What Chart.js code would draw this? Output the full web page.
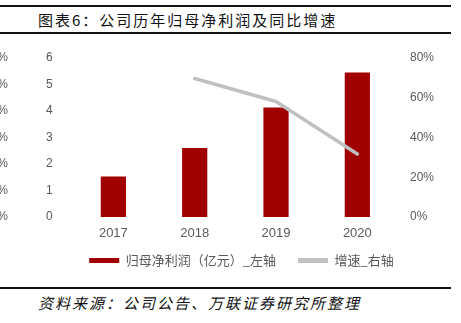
<!DOCTYPE html>
<html>
<head>
<meta charset="utf-8">
<script src="https://cdn.jsdelivr.net/npm/chart.js@4"></script>
<style>
  html, body { margin: 0; padding: 0; background: #fff; }
  #wrap { position: relative; width: 461px; height: 323px; overflow: hidden; background: #fff; }
  .rule { position: absolute; left: 0; width: 451px; height: 2px; background: #111; }
  #title { position: absolute; left: 38px; top: 10px; font: 15px "Noto Sans CJK SC", sans-serif; letter-spacing: 2px; color: #111; line-height: 20px; white-space: nowrap; }
  #source { position: absolute; left: 38px; top: 293px; font: italic 15px "Noto Sans CJK SC", sans-serif; letter-spacing: 2px; color: #111; line-height: 20px; white-space: nowrap; }
  #cv { position: absolute; left: 0; top: 36px; }
</style>
</head>
<body>
<div id="wrap">
  <div class="rule" style="top:5px"></div>
  <div id="title">图表6：公司历年归母净利润及同比增速</div>
  <div class="rule" style="top:32px"></div>
  <canvas id="cv" width="461" height="250"></canvas>
  <div class="rule" style="top:287px"></div>
  <div id="source">资料来源：公司公告、万联证券研究所整理</div>
</div>
<script>
const categories = ['2017', '2018', '2019', '2020'];
const netProfit = [1.53, 2.60, 4.13, 5.45];
const growth = [null, 0.697, 0.581, 0.317];
const barLabel = '归母净利润（亿元）_左轴';
const lineLabel = '增速_右轴';
const edgeLabels = ['60%', '50%', '40%', '30%', '20%', '10%', '0%'];

const tickColor = '#595959';

const edgePlugin = {
  id: 'edgeLabels',
  afterDraw(chart) {
    const ctx = chart.ctx;
    const ys = chart.scales.y;
    ctx.save();
    ctx.font = '12px "Liberation Sans", sans-serif';
    ctx.fillStyle = tickColor;
    ctx.textAlign = 'right';
    ctx.textBaseline = 'middle';
    edgeLabels.forEach((t, i) => {
      ctx.fillText(t, 8, ys.getPixelForValue(6 - i));
    });
    ctx.restore();
  }
};

const legendFitPlugin = {
  id: 'legendFit',
  beforeLayout(chart) {
    const lg = chart.legend;
    if (lg && !lg._fitWrapped) {
      const orig = lg.fit.bind(lg);
      lg.fit = function () { orig(); this.height = 44; };
      lg._fitWrapped = true;
    }
  },
  afterLayout(chart) {
    const lg = chart.legend;
    if (lg) { lg.top -= 10; lg.bottom -= 10; }
  }
};

new Chart(document.getElementById('cv'), {
  data: {
    labels: categories,
    datasets: [
      {
        type: 'bar',
        label: barLabel,
        data: netProfit,
        backgroundColor: '#A00000',
        borderWidth: 0,
        barPercentage: 0.31,
        categoryPercentage: 1,
        yAxisID: 'y',
        order: 1
      },
      {
        type: 'line',
        label: lineLabel,
        data: growth,
        borderColor: '#C0C0C0',
        backgroundColor: '#C0C0C0',
        borderWidth: 3.5,
        borderCapStyle: 'round',
        borderJoinStyle: 'round',
        pointRadius: 0,
        tension: 0,
        yAxisID: 'y1',
        order: 0
      }
    ]
  },
  options: {
    responsive: false,
    animation: false,
    devicePixelRatio: 1,
    layout: { autoPadding: false, padding: { left: 22, right: 0, top: 22, bottom: 0 } },
    plugins: {
      tooltip: { enabled: false },
      legend: {
        position: 'bottom',
        labels: {
          boxWidth: 30,
          boxHeight: 5,
          padding: 22,
          color: tickColor,
          font: { family: '"Noto Sans CJK SC", sans-serif', size: 13 },
          sort: (a, b) => a.datasetIndex - b.datasetIndex,
          generateLabels(chart) {
            const items = Chart.defaults.plugins.legend.labels.generateLabels(chart);
            items.forEach(it => { it.lineWidth = 0; });
            return items;
          }
        }
      }
    },
    scales: {
      x: {
        grid: { display: false, drawTicks: false },
        border: { display: false },
        ticks: { color: tickColor, padding: 9, font: { family: '"Liberation Sans", sans-serif', size: 13 } },
        afterFit(s) { s.height = 25; }
      },
      y: {
        position: 'left',
        min: 0, max: 6,
        grid: { display: false, drawTicks: false },
        border: { display: false },
        ticks: { stepSize: 1, color: tickColor, padding: 20, font: { family: '"Liberation Sans", sans-serif', size: 12 } },
        afterFit(s) { s.width = 50.7; s.paddingTop = 7; s.paddingBottom = 7; }
      },
      y1: {
        position: 'right',
        min: 0, max: 0.8,
        grid: { display: false, drawTicks: false },
        border: { display: false },
        ticks: {
          stepSize: 0.2, color: tickColor, padding: 12,
          font: { family: '"Liberation Sans", sans-serif', size: 12 },
          callback: v => Math.round(v * 100) + '%'
        },
        afterFit(s) { s.width = 63; s.paddingTop = 7; s.paddingBottom = 7; }
      }
    }
  },
  plugins: [edgePlugin, legendFitPlugin]
});
</script>
</body>
</html>
